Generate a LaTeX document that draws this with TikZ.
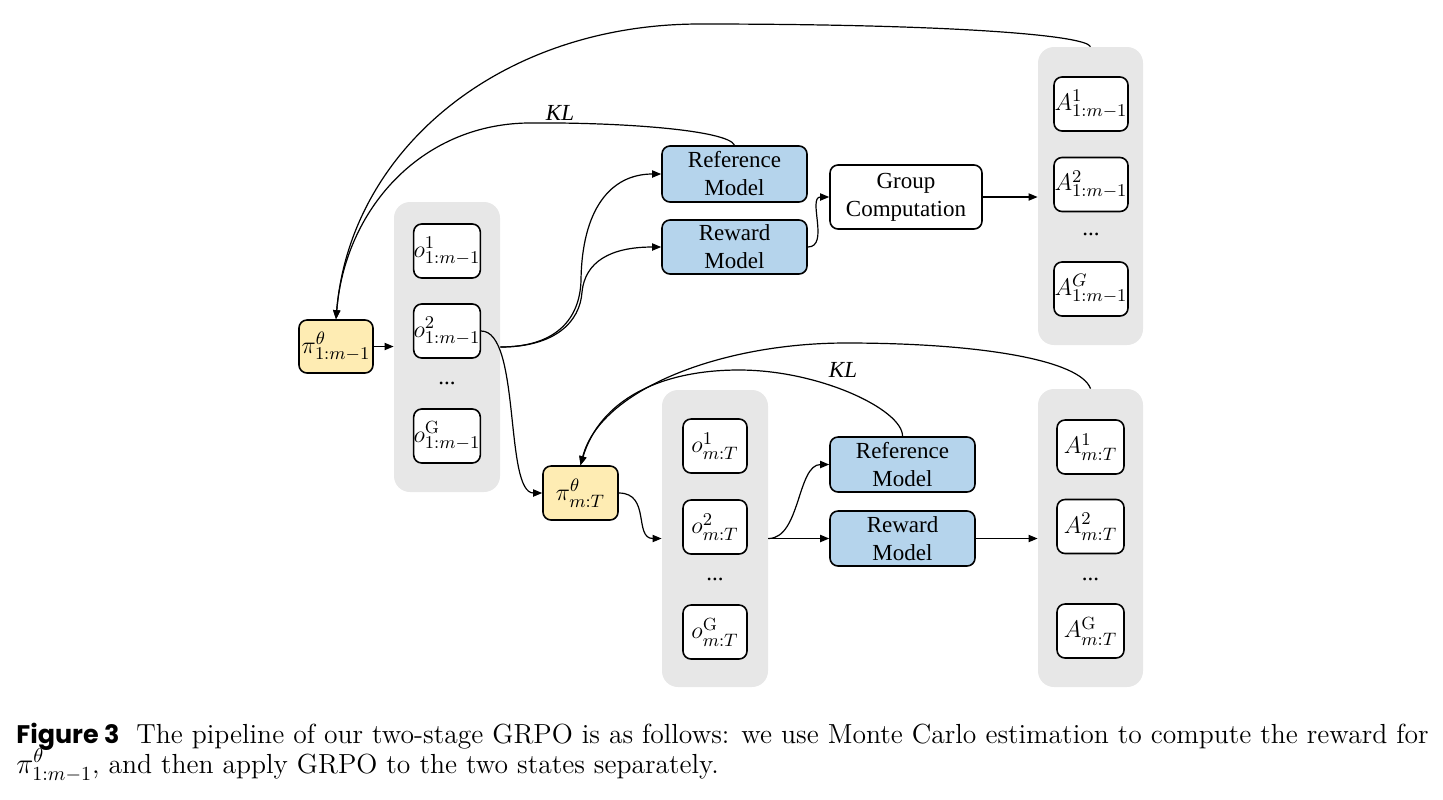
\documentclass[tikz,border=0pt]{standalone}
\usepackage{fontspec}
\usetikzlibrary{arrows.meta}
\newfontfamily\tnr{Liberation Serif}
\newfontfamily\capsans{Poppins}
\DeclareMathSizes{11.5}{11.5}{8.8}{7}
\definecolor{yel}{HTML}{FEECB3}
\definecolor{blu}{HTML}{B5D4EC}
\definecolor{gry}{HTML}{E7E7E7}
\begin{document}
\begin{tikzpicture}[x=0.5pt,y=-0.5pt,
  box/.style={draw, line width=0.8pt, rounded corners=4pt, inner sep=0pt, align=center, font=\tnr\fontsize{11.5}{14}\selectfont},
  wbox/.style={box, fill=white},
  ybox/.style={box, fill=yel},
  bbox/.style={box, fill=blu},
  grp/.style={fill=gry, rounded corners=8pt, inner sep=0pt},
  dts/.style={inner sep=0pt, font=\tnr\fontsize{11.5}{14}\selectfont},
  con/.style={line width=0.6pt, -{Triangle[length=4.5pt,width=3.6pt]}},
  lbl/.style={inner sep=0pt, font=\tnr\itshape\fontsize{11.5}{14}\selectfont},
  ]
\useasboundingbox (0,0) rectangle (1443,799);
% ---- stage 1
\node[ybox, minimum width=37pt, minimum height=26.5pt] (pi1) at (336,346.5) {$\pi^{\theta}_{1:m-1}$};
\node[grp, minimum width=53pt, minimum height=145pt] (g1) at (447,347) {};
\node[wbox, minimum width=33pt, minimum height=27pt] (o11) at (447,251) {$o^{1}_{1:m-1}$};
\node[wbox, minimum width=33pt, minimum height=27pt] (o12) at (447,331) {$o^{2}_{1:m-1}$};
\node[dts] (d1) at (447,383) {...};
\node[wbox, minimum width=33pt, minimum height=27pt] (o1G) at (447,436) {$o^{\mathrm{G}}_{1:m-1}$};
\node[bbox, minimum width=72.5pt, minimum height=28pt] (ref1) at (734.5,174) {Reference\\Model};
\node[bbox, minimum width=72.5pt, minimum height=27pt] (rew1) at (734.5,247) {Reward\\Model};
\node[wbox, minimum width=76pt, minimum height=32pt] (gc) at (906,197) {Group\\Computation};
\node[grp, minimum width=52.5pt, minimum height=149pt] (gA1) at (1090.5,196) {};
\node[wbox, minimum width=37pt, minimum height=27pt] (A11) at (1091,104) {$A^{1}_{1:m-1}$};
\node[wbox, minimum width=37pt, minimum height=27pt] (A12) at (1091,184.5) {$A^{2}_{1:m-1}$};
\node[dts] (dA1) at (1091,234) {...};
\node[wbox, minimum width=37pt, minimum height=27pt] (A1G) at (1091,289) {$A^{G}_{1:m-1}$};
% ---- stage 2
\node[ybox, minimum width=37.5pt, minimum height=27pt] (pi2) at (580.5,493) {$\pi^{\theta}_{m:T}$};
\node[grp, minimum width=53pt, minimum height=148.5pt] (g2) at (715,538.5) {};
\node[wbox, minimum width=32pt, minimum height=27pt] (o21) at (715,446) {$o^{1}_{m:T}$};
\node[wbox, minimum width=32pt, minimum height=27pt] (o22) at (715,527) {$o^{2}_{m:T}$};
\node[dts] (d2) at (715,579) {...};
\node[wbox, minimum width=32pt, minimum height=27pt] (o2G) at (715,632) {$o^{\mathrm{G}}_{m:T}$};
\node[bbox, minimum width=72.5pt, minimum height=27.5pt] (ref2) at (902.5,464.5) {Reference\\Model};
\node[bbox, minimum width=72.5pt, minimum height=27.5pt] (rew2) at (902.5,538.5) {Reward\\Model};
\node[grp, minimum width=52.5pt, minimum height=149pt] (gA2) at (1090.5,538) {};
\node[wbox, minimum width=33.5pt, minimum height=27pt] (A21) at (1090.5,447) {$A^{1}_{m:T}$};
\node[wbox, minimum width=33.5pt, minimum height=27pt] (A22) at (1090.5,526.5) {$A^{2}_{m:T}$};
\node[dts] (dA2) at (1090.5,579) {...};
\node[wbox, minimum width=33.5pt, minimum height=27pt] (A2G) at (1090.5,631) {$A^{\mathrm{G}}_{m:T}$};
% ---- connectors stage 1
\draw[con] (pi1.east) -- (pi1.east -| g1.west);
\draw[con] (g1.east) .. controls (555,347) and (580,320) .. (581,280) .. controls (582,210) and (610,174) .. (ref1.west);
\draw[con] (g1.east) .. controls (555,347) and (580,322) .. (582,292) .. controls (585,262) and (610,247) .. (rew1.west);
\draw[con] (rew1.east) .. controls +(22,0) and +(-22,0) .. (gc.west);
\draw[con] (gc.east) -- (gc.east -| gA1.west);
\draw[con] (o12.east) .. controls +(40,0) and +(-38,0) .. (pi2.west);
\draw[con] (ref1.north) .. controls (728,130) and (620,122) .. (527,123) .. controls (420,125) and (345,210) .. (pi1.north);
\draw[con] (gA1.north) .. controls (1085,35) and (950,24) .. (700,24) .. controls (500,24) and (350,150) .. (pi1.north);
\node[lbl] (kl1) at (560,113) {KL};
% ---- connectors stage 2
\draw[con] (pi2.east) .. controls +(32,0) and +(-28,0) .. (g2.west);
\draw[con] (g2.east) .. controls +(32,0) and +(-32,0) .. (ref2.west);
\draw[con] (g2.east) -- (g2.east -| rew2.west);
\draw[con] (rew2.east) -- (rew2.east -| gA2.west);
\draw[con] (ref2.north) .. controls (903,410) and (820,370) .. (739,370) .. controls (660,370) and (600,400) .. (pi2.north);
\draw[con] (gA2.north) .. controls (1080,360) and (980,343) .. (846,343) .. controls (720,343) and (600,390) .. (pi2.north);
\node[lbl] (kl2) at (843,370) {KL};
% ---- caption
\node[anchor=base west, inner sep=0pt] (figlbl) at (16,743) {\capsans\bfseries\fontsize{12.7}{15}\selectfont Figure 3};
\node[anchor=base west, inner sep=0pt] (cap1) at (136,743) {\fontsize{13.8}{16}\selectfont The pipeline of our two-stage GRPO is as follows: we use Monte Carlo estimation to compute the reward for};
\node[anchor=base west, inner sep=0pt] (cap2) at (16,773) {\fontsize{13.8}{16}\selectfont $\pi^{\theta}_{1:m-1}$, and then apply GRPO to the two states separately.};
\end{tikzpicture}
\end{document}
